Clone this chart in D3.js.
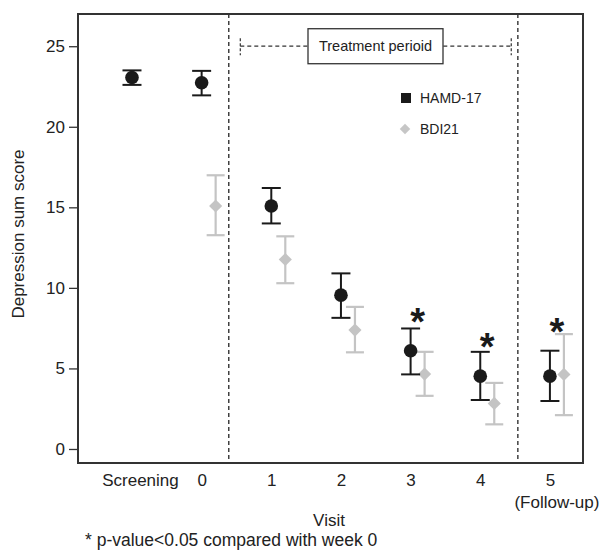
<!DOCTYPE html>
<html>
<head>
<meta charset="utf-8">
<script src="https://cdn.jsdelivr.net/npm/d3@7"></script>
<style>
  body { margin: 0; background: #fff; }
  text { font-family: Arial, "Liberation Sans", Helvetica, sans-serif; }
</style>
</head>
<body>
<div id="chart"></div>
<script>
  // data
  var visits = ["Screening", "0", "1", "2", "3", "4", "5"];
  var hamdMean = [23.06, 22.73, 15.08, 9.55, 6.10, 4.52, 4.52];
  var hamdLow  = [22.60, 21.95, 14.00, 8.14, 4.63, 3.04, 2.98];
  var hamdHigh = [23.50, 23.47, 16.20, 10.90, 7.48, 6.03, 6.10];

  // BDI has no screening value
  var bdiMean = [null, 15.08, 11.76, 7.38, 4.65, 2.83, 4.63];
  var bdiLow  = [null, 13.27, 10.29, 6.00, 3.30, 1.53, 2.10];
  var bdiHigh = [null, 16.99, 13.20, 8.82, 6.03, 4.10, 7.13];

  var starVisits = [4, 5, 6];
  var starValues = [8.43, 6.88, 7.81];

  var yTicks = [0, 5, 10, 15, 20, 25];

  var W = 606, H = 553;
  var margin = {top: 14, left: 78, right: 23, bottom: 90};
  var width = W - margin.left - margin.right,
      height = H - margin.top - margin.bottom;

  var svg = d3.select("#chart").append("svg")
    .attr("width", W)
    .attr("height", H);

  var g = svg.append("g")
    .attr("transform", "translate(" + margin.left + "," + margin.top + ")");

  var x = d3.scaleLinear()
    .domain([-0.775, 6.475])
    .range([0, width]);

  var y = d3.scaleLinear()
    .domain([-0.87, 27.0])
    .range([height, 0]);

  var bdiOffset = 14; // px shift of the grey series

  // y axis
  var yAxis = d3.axisLeft(y)
    .tickValues(yTicks)
    .tickSize(9)
    .tickPadding(4);

  var yG = g.append("g").call(yAxis);
  yG.select(".domain").remove();
  yG.selectAll(".tick line").attr("stroke", "#333").attr("stroke-width", 1.3);
  yG.selectAll(".tick text")
    .attr("font-size", "17px")
    .attr("fill", "#222");

  // x tick labels
  var xAxis = d3.axisBottom(x)
    .tickValues(d3.range(visits.length))
    .tickFormat(i => visits[i])
    .tickSize(0)
    .tickPadding(11);

  var xG = g.append("g")
    .attr("transform", "translate(0," + height + ")")
    .call(xAxis);
  xG.select(".domain").remove();
  xG.selectAll(".tick text")
    .attr("font-size", "17px")
    .attr("fill", "#222")
    .attr("dx", (d, i) => i == 0 ? 8 : 0);

  // follow-up sub label
  g.append("text")
    .attr("x", x(6) + 7)
    .attr("y", height + 45)
    .attr("text-anchor", "middle")
    .attr("font-size", "17px")
    .attr("fill", "#222")
    .text("(Follow-up)");

  // period separators
  [1.39, 5.54].forEach(v => {
    g.append("line")
      .attr("x1", x(v)).attr("x2", x(v))
      .attr("y1", 0).attr("y2", height)
      .attr("stroke", "#111")
      .attr("stroke-width", 1.2)
      .attr("stroke-dasharray", "4,3");
  });

  // treatment period bracket
  var bx0 = x(1.555), bx1 = x(5.445), by = y(25);
  g.append("line")
    .attr("x1", bx0).attr("x2", bx1)
    .attr("y1", by).attr("y2", by)
    .attr("stroke", "#333")
    .attr("stroke-width", 1.2)
    .attr("stroke-dasharray", "4,3");
  [bx0, bx1].forEach(bx => {
    g.append("line")
      .attr("x1", bx).attr("x2", bx)
      .attr("y1", by - 8).attr("y2", by + 9)
      .attr("stroke", "#333")
      .attr("stroke-width", 1.2)
      .attr("stroke-dasharray", "3,2");
  });
  g.append("rect")
    .attr("x", 230).attr("y", by - 17.5)
    .attr("width", 135).attr("height", 35)
    .attr("fill", "#fff")
    .attr("stroke", "#333")
    .attr("stroke-width", 1.3);
  g.append("text")
    .attr("x", 297.5).attr("y", by + 5)
    .attr("text-anchor", "middle")
    .attr("font-size", "14.5px")
    .attr("fill", "#222")
    .text("Treatment perioid");

  // legend
  g.append("rect")
    .attr("x", 323).attr("y", 79)
    .attr("width", 10).attr("height", 10)
    .attr("fill", "#1a1a1a");
  g.append("text")
    .attr("x", 342).attr("y", 89)
    .attr("font-size", "14px")
    .attr("fill", "#222")
    .text("HAMD-17");
  g.append("path")
    .attr("d", d3.symbol().type(d3.symbolDiamond2).size(70))
    .attr("transform", "translate(327,115)")
    .attr("fill", "#c6c6c6");
  g.append("text")
    .attr("x", 342).attr("y", 120)
    .attr("font-size", "14px")
    .attr("fill", "#222")
    .text("BDI21");

  // error bar helper
  function errorBars(cls, mean, low, high, dx, color, sw, cap) {
    var data = d3.range(visits.length).filter(i => mean[i] != null);
    var eb = g.selectAll("g." + cls).data(data).enter()
      .append("g").attr("class", cls);
    eb.append("line")
      .attr("x1", i => x(i) + dx).attr("x2", i => x(i) + dx)
      .attr("y1", i => y(low[i])).attr("y2", i => y(high[i]))
      .attr("stroke", color).attr("stroke-width", sw);
    eb.append("line")
      .attr("x1", i => x(i) + dx - cap).attr("x2", i => x(i) + dx + cap)
      .attr("y1", i => y(low[i])).attr("y2", i => y(low[i]))
      .attr("stroke", color).attr("stroke-width", sw);
    eb.append("line")
      .attr("x1", i => x(i) + dx - cap).attr("x2", i => x(i) + dx + cap)
      .attr("y1", i => y(high[i])).attr("y2", i => y(high[i]))
      .attr("stroke", color).attr("stroke-width", sw);
    return eb;
  }

  // BDI21 (grey diamonds)
  var bdiG = errorBars("bdi", bdiMean, bdiLow, bdiHigh, bdiOffset, "#c4c4c4", 2.2, 9);
  bdiG.append("path")
    .attr("d", d3.symbol().type(d3.symbolDiamond2).size(110))
    .attr("transform", i => "translate(" + (x(i) + bdiOffset) + "," + y(bdiMean[i]) + ")")
    .attr("fill", "#c4c4c4");

  // HAMD-17 (black circles)
  var hamdG = errorBars("hamd", hamdMean, hamdLow, hamdHigh, 0, "#1a1a1a", 2, 9.5);
  hamdG.append("circle")
    .attr("cx", i => x(i))
    .attr("cy", i => y(hamdMean[i]))
    .attr("r", 6.8)
    .attr("fill", "#1a1a1a");

  // significance stars
  g.selectAll("text.star").data(starVisits).enter()
    .append("text")
    .attr("class", "star")
    .attr("x", i => x(i) + 7)
    .attr("y", (i, k) => y(starValues[k]) + 22)
    .attr("text-anchor", "middle")
    .attr("font-size", "38px")
    .attr("font-weight", "bold")
    .attr("fill", "#1a1a1a")
    .text("*");

  // frame
  g.append("rect")
    .attr("x", 0).attr("y", 0)
    .attr("width", width).attr("height", height)
    .attr("fill", "none")
    .attr("stroke", "#333")
    .attr("stroke-width", 2);

  // axis titles
  svg.append("text")
    .attr("transform", "translate(24," + 234 + ") rotate(-90)")
    .attr("text-anchor", "middle")
    .attr("font-size", "17px")
    .attr("fill", "#222")
    .text("Depression sum score");

  svg.append("text")
    .attr("x", 329).attr("y", 526)
    .attr("text-anchor", "middle")
    .attr("font-size", "17px")
    .attr("fill", "#222")
    .text("Visit");

  svg.append("text")
    .attr("x", 85).attr("y", 546)
    .attr("font-size", "17.5px")
    .attr("fill", "#222")
    .text("* p-value<0.05 compared with week 0");
</script>
</body>
</html>
